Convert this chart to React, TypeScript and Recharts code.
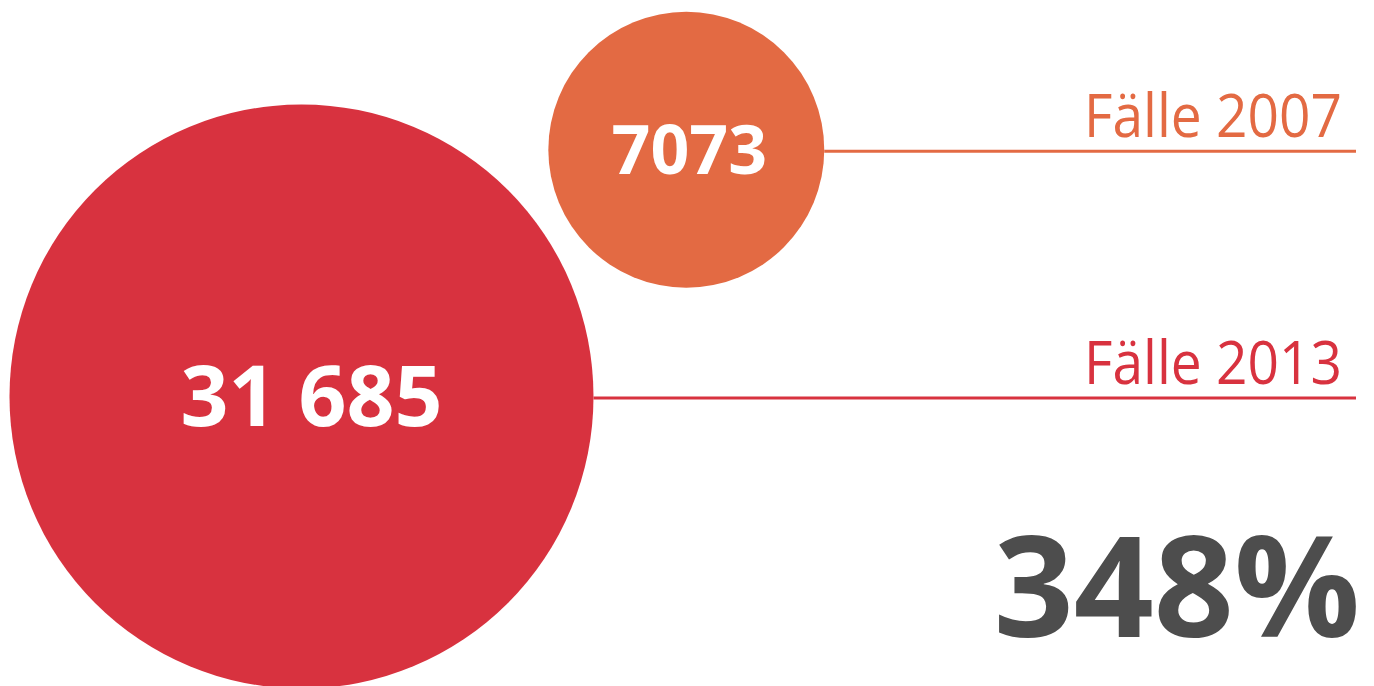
import React from 'react';
import { ScatterChart, Scatter, XAxis, YAxis, ZAxis } from 'recharts';

const years = ['2013', '2007'];
const cases = [31685, 7073];
const labels = ['Fälle 2013', 'Fälle 2007'];

const colors = ['#d8323f', '#e36a43'];
const valueFont = [84, 68];
const valueDx = [10, 3];

const W = 1374;
const H = 686;

const data = years.map((y, i) => ({ i, year: y, cases: cases[i], label: labels[i] }));

const maxR = 292;
const growth = Math.round((cases[0] / cases[1] - 1) * 100);

// German style: thin grouping only from five digits up
const fmt = (n: number) => (n >= 10000 ? String(n).replace(/\B(?=(\d{3})+(?!\d))/g, ' ') : String(n));

const Bubble = (props: any) => {
  const { cx, cy, width, payload } = props;
  const r = width / 2;
  const i = payload.i;
  const fs = valueFont[i];
  return (
    <g>
      <circle cx={cx} cy={cy} r={r} fill={colors[i]} />
      <line x1={cx + r} x2={1356} y1={cy + 1.5} y2={cy + 1.5} stroke={colors[i]} strokeWidth={3} />
      <text
        x={1342}
        y={cy - 13}
        textAnchor="end"
        fill={colors[i]}
        fontSize={61}
        fontFamily="'Open Sans', sans-serif"
        textLength={258}
        lengthAdjust="spacingAndGlyphs"
      >
        {payload.label}
      </text>
      <text
        x={cx + valueDx[i]}
        y={cy + fs * 0.357}
        textAnchor="middle"
        fill="#ffffff"
        fontSize={fs}
        fontWeight={700}
        fontFamily="'Open Sans', sans-serif"
      >
        {fmt(payload.cases)}
      </text>
    </g>
  );
};

export default function App() {
  return (
    <div style={{ position: 'absolute', left: 0, top: 0, width: W, height: H, background: '#fff' }}>
      <ScatterChart width={W} height={H} margin={{ top: 0, right: 0, bottom: 0, left: 0 }}>
        <XAxis type="number" dataKey="i" domain={[-0.7835, 2.7872]} hide />
        <YAxis type="number" dataKey="i" domain={[-1.173, 1.6066]} hide />
        <ZAxis type="number" dataKey="cases" domain={[0, cases[0]]} range={[0, Math.PI * maxR * maxR]} />
        <Scatter data={data} shape={<Bubble />} isAnimationActive={false} />
        <text
          x={1360}
          y={637}
          textAnchor="end"
          fill="#4d4d4d"
          fontSize={140}
          fontWeight={700}
          fontFamily="'Open Sans', sans-serif"
        >
          {growth}%
        </text>
      </ScatterChart>
    </div>
  );
}
